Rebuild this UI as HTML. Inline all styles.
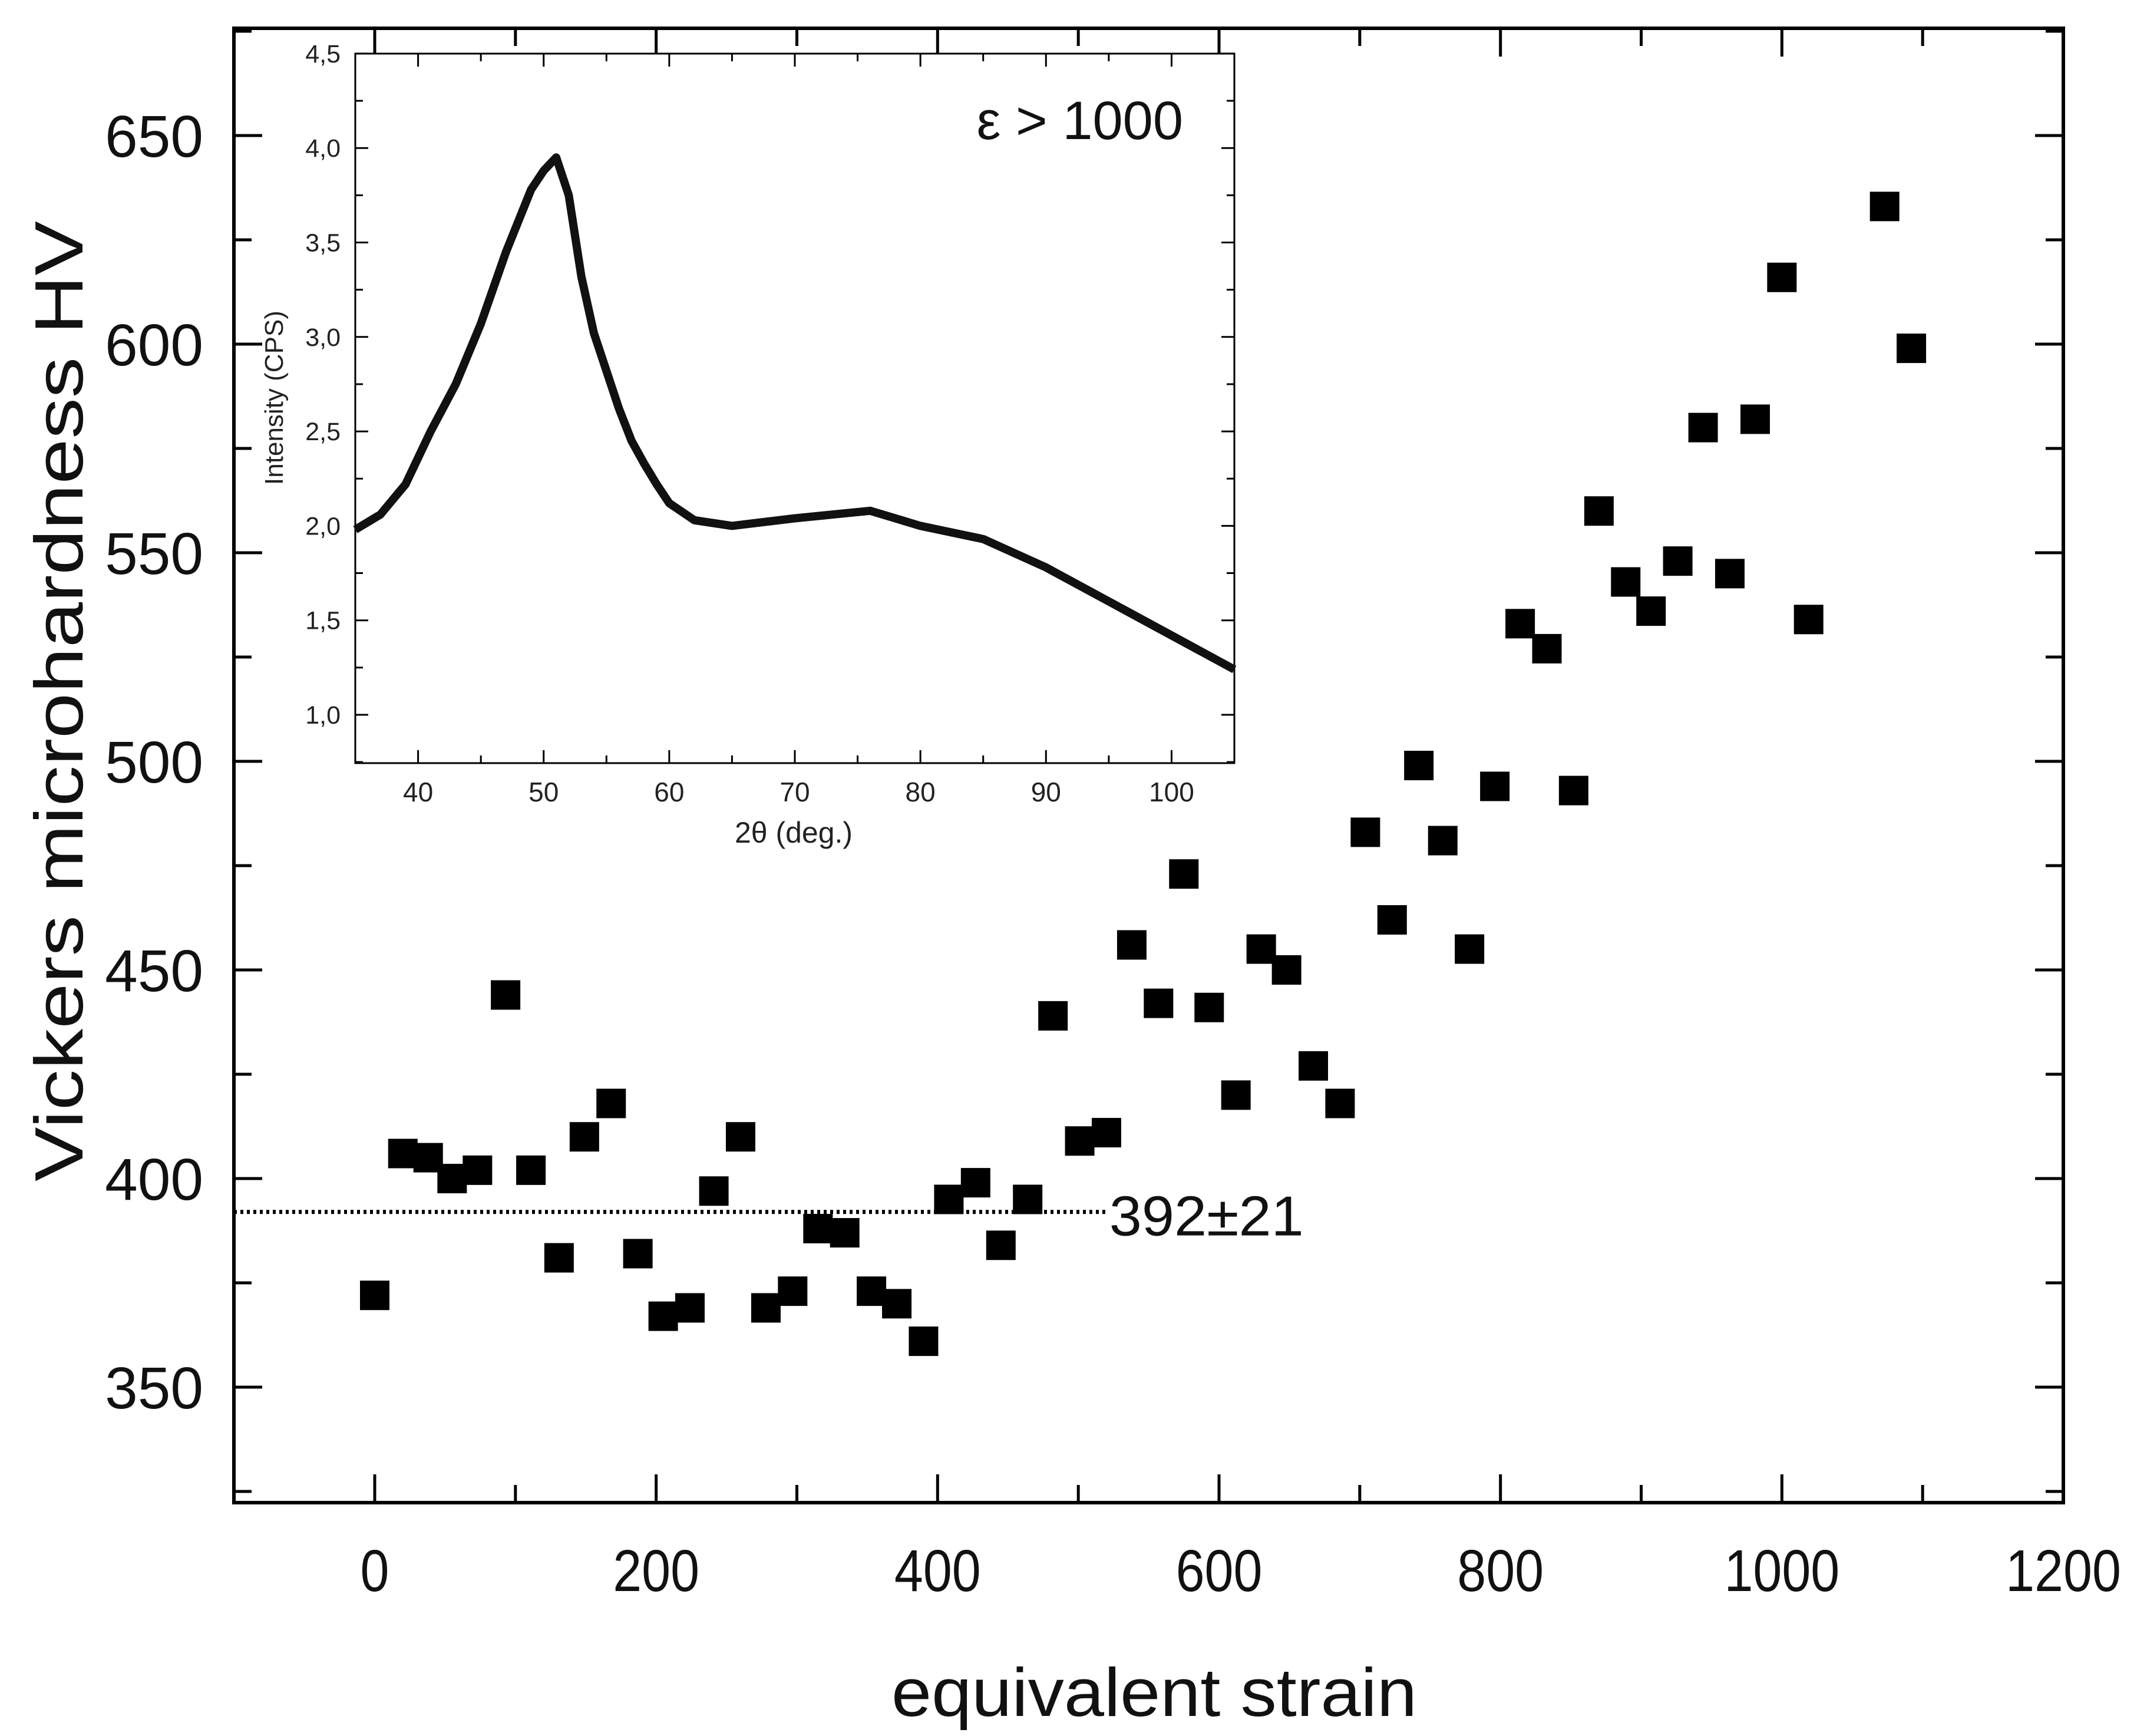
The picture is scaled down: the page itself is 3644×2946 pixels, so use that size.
<!DOCTYPE html>
<html><head><meta charset="utf-8"><style>
html,body{margin:0;padding:0;background:#fff;}
svg{display:block;font-family:"Liberation Sans",sans-serif;}
</style></head><body>
<svg id="chart" width="3644" height="2946" viewBox="0 0 3644 2946" xmlns="http://www.w3.org/2000/svg">
<g id="main"></g>
<g id="inset"></g>
</svg>
<script>
// main chart data
const strain=[0,20,38,55,73,93,111,131,149,168,187,205,224,241,260,278,297,315,334,353,371,390,408,427,445,464,482,501,520,538,557,575,593,612,630,648,667,686,704,723,742,759,778,796,814,833,852,870,889,907,926,944,963,981,1000,1019,1073,1092];
const hardness=[372,406,405,400,402,444,402,381,410,418,382,367,369,397,410,369,373,388,387,373,370,361,395,399,384,395,439,409,411,456,442,473,441,420,455,450,427,418,483,462,499,481,455,494,533,527,493,560,543,536,548,580,545,582,616,534,633,599];
const xTicks=[0,200,400,600,800,1000,1200];
const yTicks=[350,400,450,500,550,600,650];
const meanValue=392;
const meanLabel="392±21";
// inset data
const theta=[35,37,39,41,43,45,47,49,50,51,52,53,54,55,56,57,58,59,60,62,65,70,73,76,78,80,85,90,95,100,105];
const intensity=[1.98,2.06,2.22,2.5,2.75,3.07,3.45,3.78,3.88,3.95,3.75,3.32,3.02,2.82,2.62,2.45,2.33,2.22,2.12,2.03,2.0,2.04,2.06,2.08,2.04,2.0,1.93,1.78,1.6,1.42,1.24];
const insetXTicks=[40,50,60,70,80,90,100];
const insetYTicks=[1.0,1.5,2.0,2.5,3.0,3.5,4.0,4.5];
const insetYLabels=["1,0","1,5","2,0","2,5","3,0","3,5","4,0","4,5"];

const NS="http://www.w3.org/2000/svg";
function mk(parent,tag,attrs,text){const e=document.createElementNS(NS,tag);for(const k in attrs)e.setAttribute(k,attrs[k]);if(text!==undefined)e.textContent=text;parent.appendChild(e);return e;}

const L=397,R=3502,T=48,B=2550;
const xs=v=>636+v*(R-636)/1200;
const ys=v=>230+(650-v)*7.08;
const g=document.getElementById('main');
let f=mk(g,'rect',{x:L,y:T,width:R-L,height:B-T,fill:'none',stroke:'#000','stroke-width':6});


for(let v=-100;v<=1200;v+=100){
  const x=xs(v),len=v%200===0?48:30;
  let t=mk(g,'line',{x1:x,y1:B,x2:x,y2:B-len,stroke:'#000','stroke-width':5});
  
  
  let t2=mk(g,'line',{x1:x,y1:T,x2:x,y2:T+len,stroke:'#000','stroke-width':5});
  
  
}
xTicks.forEach(v=>{
  let t=mk(g,'text',{x:xs(v),y:2700,'font-size':100,'text-anchor':'middle',fill:'#111',transform:'translate('+(xs(v)*0.12)+',0) scale(0.88,1)'},String(v));
  
  
});
for(let v=325;v<=675;v+=25){
  const y=ys(v),len=v%50===0?48:30;
  let t=mk(g,'line',{x1:L,y1:y,x2:L+len,y2:y,stroke:'#000','stroke-width':5});
  
  
  let t2=mk(g,'line',{x1:R,y1:y,x2:R-len,y2:y,stroke:'#000','stroke-width':5});
  
  
}
yTicks.forEach(v=>{
  let t=mk(g,'text',{x:345,y:ys(v)+36,'font-size':100,'text-anchor':'end',fill:'#111'},String(v));
  
  
});
let yt=mk(g,'text',{x:0,y:0,'font-size':116,'text-anchor':'middle',fill:'#111',transform:'translate(140,1190) rotate(-90)',textLength:1630,lengthAdjust:'spacingAndGlyphs'},'Vickers microhardness HV');


let xt=mk(g,'text',{x:1959,y:2912,'font-size':116,'text-anchor':'middle',fill:'#111',textLength:892,lengthAdjust:'spacingAndGlyphs'},'equivalent strain');


let ml=mk(g,'line',{x1:L,y1:ys(meanValue),x2:xs(520),y2:ys(meanValue),stroke:'#000','stroke-width':7,'stroke-dasharray':'5 6'});


let mlab=mk(g,'text',{x:xs(522),y:ys(meanValue)+40,'font-size':96,fill:'#111',textLength:330,lengthAdjust:'spacingAndGlyphs'},meanLabel);


const M=50;
strain.forEach((s,i)=>{
  let p=mk(g,'rect',{x:xs(s)-M/2,y:ys(hardness[i])-M/2,width:M,height:M,fill:'#000'});
  
  
});

// inset
const iL=603,iR=2095,iT=91,iB=1295;
const ixs=v=>iL+(v-35)*(iR-iL)/70;
const iys=v=>1213-(v-1.0)*320.6;
const gi=document.getElementById('inset');
let bg=mk(gi,'rect',{x:iL,y:iT,width:iR-iL,height:iB-iT,fill:'#fff',stroke:'#000','stroke-width':3});


for(let v=35;v<=105;v+=5){
  const x=ixs(v),len=v%10===0?22:13;
  let t=mk(gi,'line',{x1:x,y1:iB,x2:x,y2:iB-len,stroke:'#000','stroke-width':3});
  
  
  let t2=mk(gi,'line',{x1:x,y1:iT,x2:x,y2:iT+len,stroke:'#000','stroke-width':3});
  
  
}
insetXTicks.forEach(v=>{
  let t=mk(gi,'text',{x:ixs(v),y:1360,'font-size':46,'text-anchor':'middle',fill:'#222'},String(v));
  
  
});
for(let v=0.75;v<=4.5;v+=0.25){
  const y=iys(v),len=Math.abs(v*2-Math.round(v*2))<1e-6?22:13;
  let t=mk(gi,'line',{x1:iL,y1:y,x2:iL+len,y2:y,stroke:'#000','stroke-width':3});
  
  
  let t2=mk(gi,'line',{x1:iR,y1:y,x2:iR-len,y2:y,stroke:'#000','stroke-width':3});
  
  
}
insetYTicks.forEach((v,i)=>{
  let t=mk(gi,'text',{x:578,y:iys(v)+15,'font-size':43,'text-anchor':'end',fill:'#222'},insetYLabels[i]);
  
  
});
let iyt=mk(gi,'text',{x:0,y:0,'font-size':44,'text-anchor':'middle',fill:'#222',transform:'translate(480,675) rotate(-90)'},'Intensity (CPS)');


let ixt=mk(gi,'text',{x:1347,y:1430,'font-size':50,'text-anchor':'middle',fill:'#222'},'2θ (deg.)');


let ann=mk(gi,'text',{x:2008,y:236,'font-size':92,'text-anchor':'end',fill:'#111'},'ε > 1000');


let d='';
theta.forEach((t,i)=>{d+=(i?'L':'M')+ixs(t).toFixed(1)+','+iys(intensity[i]).toFixed(1);});
let cv=mk(gi,'path',{d:d,fill:'none',stroke:'#111','stroke-width':14,'stroke-linejoin':'round'});


</script>
</body></html>
